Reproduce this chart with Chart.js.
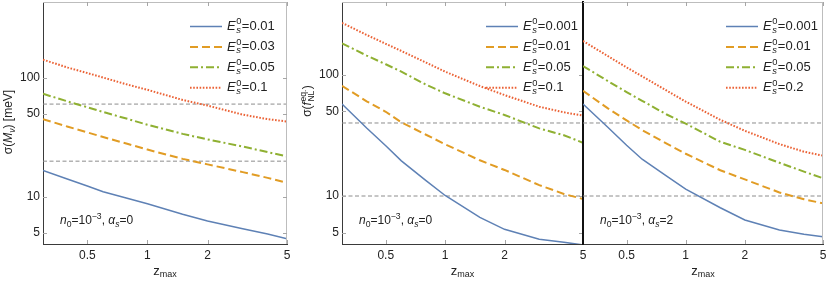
<!DOCTYPE html>
<html>
<head>
<meta charset="utf-8">
<script src="https://cdn.jsdelivr.net/npm/chart.js@4"></script>
<style>
  html, body { margin: 0; padding: 0; background: #fff; }
  #wrap { position: relative; width: 830px; height: 281px; overflow: hidden; }
  canvas { position: absolute; top: 0; }
</style>
</head>
<body>
<div id="wrap">
  <canvas id="mnu-chart" width="295" height="281" style="left:0px"></canvas>
  <canvas id="fnl-a0-chart" width="300" height="281" style="left:290px"></canvas>
  <canvas id="fnl-a2-chart" width="257" height="281" style="left:573px"></canvas>
</div>
<script>
const FONT = '"Liberation Sans", Arial, Helvetica, sans-serif';

// shared x values (z_max) and axis ticks
const zMax = [0.3, 0.4, 0.5, 0.6, 0.8, 1, 1.5, 2, 3, 4, 5];
const zRange = [0.3, 5];
const xTicks = [0.3, 0.4, 0.5, 0.6, 0.7, 0.8, 0.9, 1, 2, 3, 4, 5];
const xLabeled = [0.5, 1, 2, 5];
const yTicks = [4, 5, 6, 7, 8, 9, 10, 20, 30, 40, 50, 60, 70, 80, 90, 100, 200, 300, 400];
const yLabeled = [5, 10, 50, 100];

// left panel: sigma(M_nu) [meV], alpha_s = 0
const mnuLabels = ['0.01', '0.03', '0.05', '0.1'];
const mnuE001 = [16.7, 14.1, 12.4, 11.1, 9.75, 8.8, 7.2, 6.33, 5.45, 4.92, 4.5];
const mnuE003 = [44.9, 38.8, 34.8, 31.8, 27.8, 25.0, 20.9, 18.8, 16.2, 14.5, 13.2];
const mnuE005 = [73.1, 63, 56.5, 51.5, 45, 40.3, 33.8, 30.4, 26.5, 23.8, 21.9];
const mnuE01 = [141, 121, 109, 100, 87, 79, 65, 58.3, 49, 44.9, 42.9];
const mnuRefLines = [20, 60];

// middle panel: sigma(f_NL^eq), alpha_s = 0
const fnlA0Labels = ['0.001', '0.01', '0.05', '0.1'];
const fnlA0E0001 = [57.3, 36.4, 26, 19.5, 13.4, 10.1, 6.67, 5.31, 4.40, 4.15, 3.95];
const fnlA0E001 = [81, 60.4, 49.5, 40.5, 32, 26.7, 19.7, 16.4, 12.3, 10.4, 9.45];
const fnlA0E005 = [181.5, 144, 122, 106, 82.8, 70.3, 54.5, 46.6, 36.1, 31.7, 27.5];
const fnlA0E01 = [268, 213, 180, 157, 126, 106, 80.7, 68, 54.5, 49, 46];

// right panel: sigma(f_NL^eq), alpha_s = 2
const fnlA2Labels = ['0.001', '0.01', '0.05', '0.2'];
const fnlA2E0001 = [57.3, 37.1, 26.2, 20.1, 14.6, 11.4, 8.0, 6.34, 5.25, 4.83, 4.62];
const fnlA2E001 = [73.8, 53, 42, 35, 27, 22.3, 16.3, 13.7, 10.7, 9.4, 8.7];
const fnlA2E005 = [118, 89, 72, 61, 47, 39.5, 28, 24, 18.8, 15.9, 14];
const fnlA2E02 = [190, 143, 115, 97, 74, 60, 42.5, 34.5, 26.8, 23.2, 21.5];
const fnlRefLines = [10, 40];

const seriesColors = ['#5e81b5', '#e19c24', '#8fb032', '#eb6235'];
const seriesDash = [[], [8, 4], [8, 3, 2, 3], [1.6, 1.6]];
const seriesWidth = [1.5, 2, 2, 2];

function curve(values, k, label) {
    return {
        label: label,
        data: zMax.map((z, i) => ({ x: z, y: values[i] })),
        borderColor: seriesColors[k],
        borderDash: seriesDash[k],
        borderWidth: seriesWidth[k],
        pointRadius: 0,
        tension: 0,
        fill: false
    };
}

function refLine(v) {
    return {
        label: '',
        isRef: true,
        data: zRange.map(z => ({ x: z, y: v })),
        borderColor: '#8c8c8c',
        borderDash: [4, 2.5],
        borderWidth: 1,
        pointRadius: 0
    };
}

// text with italics, sub/superscripts
function fontStr(size, italic) {
    return (italic ? 'italic ' : '') + size + 'px ' + FONT;
}

function drawRich(ctx, parts, x, y, size, align) {
    const items = [];
    let w = 0;
    parts.forEach(p => {
        if (p.stack) {
            const s = size * 0.72;
            ctx.font = fontStr(s, p.supI);
            const w1 = ctx.measureText(p.stack[0]).width;
            ctx.font = fontStr(s, p.subI);
            const w2 = ctx.measureText(p.stack[1]).width;
            items.push({ x: w + 0.5, stack: p.stack, s: s, supI: p.supI, subI: p.subI });
            w += Math.max(w1, w2) + 1;
        } else {
            const s = p.size || (p.pos ? size * 0.72 : size);
            ctx.font = fontStr(s, p.i);
            const dy = p.pos === 'sub' ? size * 0.3 : (p.pos === 'sup' ? -size * 0.38 : 0);
            items.push({ x: w, t: p.t, s: s, i: p.i, dy: dy });
            w += ctx.measureText(p.t).width;
        }
    });
    const x0 = align === 'center' ? x - w / 2 : (align === 'right' ? x - w : x);
    ctx.textAlign = 'left';
    ctx.textBaseline = 'middle';
    items.forEach(it => {
        if (it.stack) {
            ctx.font = fontStr(it.s, it.supI);
            ctx.fillText(it.stack[0], x0 + it.x, y - size * 0.36);
            ctx.font = fontStr(it.s, it.subI);
            ctx.fillText(it.stack[1], x0 + it.x, y + size * 0.3);
        } else {
            ctx.font = fontStr(it.s, it.i);
            ctx.fillText(it.t, x0 + it.x, y + it.dy);
        }
    });
}

function legendParts(label) {
    return [{ t: 'E', i: true }, { stack: ['0', 's'], subI: true }, { t: '=' + label }];
}

function noteParts(alpha) {
    return [
        { t: 'n', i: true }, { t: '0', pos: 'sub' }, { t: '=10' }, { t: '\u22123', pos: 'sup' },
        { t: ', ' }, { t: '\u03b1', i: true }, { t: 's', pos: 'sub', i: true }, { t: '=' + alpha }
    ];
}

const panelDecor = {
    id: 'panelDecor',
    afterDraw(chart, args, opts) {
        const { ctx, chartArea: a, scales } = chart;
        ctx.save();
        ctx.setLineDash([]);

        // light frame on top and right
        ctx.strokeStyle = '#bdbdbd';
        ctx.lineWidth = 1;
        ctx.beginPath();
        ctx.moveTo(a.left, a.top + 0.5);
        ctx.lineTo(a.right, a.top + 0.5);
        ctx.moveTo(a.right - 0.5, a.top);
        ctx.lineTo(a.right - 0.5, a.bottom);
        ctx.stroke();

        // inward ticks on all four sides
        ctx.strokeStyle = '#a6a6a6';
        ctx.beginPath();
        scales.x.ticks.forEach(t => {
            const px = Math.round(scales.x.getPixelForValue(t.value)) + 0.5;
            const len = xLabeled.includes(t.value) ? 4 : 2.5;
            ctx.moveTo(px, a.bottom);
            ctx.lineTo(px, a.bottom - len);
            ctx.moveTo(px, a.top);
            ctx.lineTo(px, a.top + len);
        });
        scales.y.ticks.forEach(t => {
            const py = Math.round(scales.y.getPixelForValue(t.value)) + 0.5;
            const len = yLabeled.includes(t.value) ? 4 : 2.5;
            ctx.moveTo(a.left, py);
            ctx.lineTo(a.left + len, py);
            ctx.moveTo(a.right, py);
            ctx.lineTo(a.right - len, py);
        });
        ctx.stroke();

        // legend
        const curves = chart.data.datasets.filter(d => !d.isRef);
        curves.forEach((d, i) => {
            const y = a.top + 24.5 + i * 20.4;
            ctx.strokeStyle = d.borderColor;
            ctx.lineWidth = d.borderWidth;
            ctx.setLineDash(d.borderDash);
            ctx.beginPath();
            ctx.moveTo(a.right - 97, y);
            ctx.lineTo(a.right - 65, y);
            ctx.stroke();
            ctx.fillStyle = '#222';
            drawRich(ctx, legendParts(d.label), a.right - 60, y, 13, 'left');
        });
        ctx.setLineDash([]);

        // note
        ctx.fillStyle = '#222';
        drawRich(ctx, noteParts(opts.alpha), a.left + 17, a.bottom - 23, 12, 'left');

        // x title
        drawRich(ctx, [{ t: 'z', size: 13 }, { t: 'max', pos: 'sub', size: 9 }],
            (a.left + a.right) / 2, 271, 12, 'center');

        // y title
        if (opts.yTitle) {
            ctx.translate(a.left - 34, a.top + opts.yTitleY);
            ctx.rotate(-Math.PI / 2);
            drawRich(ctx, opts.yTitle, 0, 0, 12, 'center');
        }
        ctx.restore();
    }
};

function makePanel(id, datasets, yRange, yWidth, showY, padRight, decor) {
    return new Chart(document.getElementById(id), {
        type: 'line',
        data: { datasets: datasets },
        plugins: [panelDecor],
        options: {
            responsive: false,
            animation: false,
            events: [],
            layout: { padding: { top: 2, right: padRight, left: 0, bottom: 0 } },
            plugins: {
                legend: { display: false },
                tooltip: { enabled: false },
                panelDecor: decor
            },
            scales: {
                x: {
                    type: 'logarithmic',
                    min: zRange[0],
                    max: zRange[1],
                    afterBuildTicks: s => { s.ticks = xTicks.map(v => ({ value: v })); },
                    afterFit: s => { s.height = 37; s.paddingLeft = 0; s.paddingRight = 0; },
                    grid: { display: false, drawTicks: false },
                    border: { display: true, color: '#3a3a3a', width: 1 },
                    ticks: {
                        autoSkip: false,
                        maxRotation: 0,
                        padding: 4,
                        color: '#222',
                        font: { family: FONT, size: 12 },
                        callback: v => xLabeled.includes(v) ? String(v) : null
                    }
                },
                y: {
                    type: 'logarithmic',
                    min: yRange[0],
                    max: yRange[1],
                    afterBuildTicks: s => { s.ticks = yTicks.map(v => ({ value: v })); },
                    afterFit: s => { s.width = yWidth; s.paddingTop = 0; s.paddingBottom = 0; },
                    grid: { display: false, drawTicks: false },
                    border: showY ? { display: true, color: '#3a3a3a', width: 1 }
                                  : { display: true, color: '#111', width: 2 },
                    ticks: {
                        autoSkip: false,
                        padding: 3,
                        color: '#222',
                        font: { family: FONT, size: 12 },
                        callback: v => (showY && yLabeled.includes(v)) ? String(v) : null
                    }
                }
            }
        }
    });
}

document.addEventListener('DOMContentLoaded', function () {
    makePanel('mnu-chart', [
        curve(mnuE001, 0, mnuLabels[0]),
        curve(mnuE003, 1, mnuLabels[1]),
        curve(mnuE005, 2, mnuLabels[2]),
        curve(mnuE01, 3, mnuLabels[3]),
        ...mnuRefLines.map(refLine)
    ], [4.06, 428], 43, true, 8, {
        alpha: '0',
        yTitleY: 120,
        yTitle: [{ t: '\u03c3(' }, { t: 'M', i: true }, { t: '\u03bd', pos: 'sub', i: true }, { t: ') [meV]' }]
    });

    makePanel('fnl-a0-chart', [
        curve(fnlA0E0001, 0, fnlA0Labels[0]),
        curve(fnlA0E001, 1, fnlA0Labels[1]),
        curve(fnlA0E005, 2, fnlA0Labels[2]),
        curve(fnlA0E01, 3, fnlA0Labels[3]),
        ...fnlRefLines.map(refLine)
    ], [4.02, 398], 52, true, 7, {
        alpha: '0',
        yTitleY: 99,
        yTitle: [{ t: '\u03c3(' }, { t: 'f', i: true }, { stack: ['eq.', 'NL'] }, { t: ')' }]
    });

    makePanel('fnl-a2-chart', [
        curve(fnlA2E0001, 0, fnlA2Labels[0]),
        curve(fnlA2E001, 1, fnlA2Labels[1]),
        curve(fnlA2E005, 2, fnlA2Labels[2]),
        curve(fnlA2E02, 3, fnlA2Labels[3]),
        ...fnlRefLines.map(refLine)
    ], [4.02, 398], 10, false, 7, {
        alpha: '2'
    });
});
</script>
</body>
</html>
